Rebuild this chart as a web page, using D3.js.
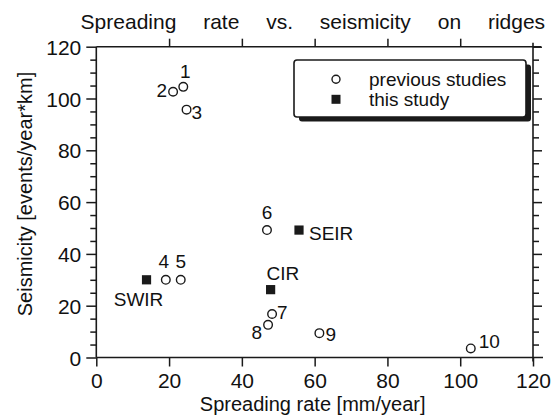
<!DOCTYPE html>
<html>
<head>
<meta charset="utf-8">
<script src="https://cdn.jsdelivr.net/npm/d3@7"></script>
<style>
  html, body { margin: 0; padding: 0; background: #fff; }
  svg { display: block; }
  text { font-family: "Liberation Sans", Arial, Helvetica, sans-serif; fill: #111; }
</style>
</head>
<body>
<svg id="chart" width="559" height="417"></svg>
<script>
// ---- data ----
const prevLabels = ["1", "2", "3", "4", "5", "6", "7", "8", "9", "10"];
const prevX = [23.9, 21.1, 24.8, 19.1, 23.2, 46.9, 48.3, 47.2, 61.3, 102.9];
const prevY = [104.5, 102.6, 95.7, 30, 30, 49.2, 16.8, 12.6, 9.4, 3.5];

const thisNames = ["SWIR", "SEIR", "CIR"];
const thisX = [13.8, 55.7, 47.9];
const thisY = [30, 49.2, 26.2];

const xTicks = [0, 20, 40, 60, 80, 100, 120];
const yTicks = [0, 20, 40, 60, 80, 100, 120];
const yMinorTicks = d3.range(0, 121, 5).filter(v => v % 20 !== 0);

const titleText = "Spreading rate vs. seismicity on ridges";
const xTitle = "Spreading rate [mm/year]";
const yTitle = "Seismicity [events/year*km]";
const legendLabels = ["previous studies", "this study"];

// ---- label placement (style) ----
const prevLabelPos = [
  {dx: 2, dy: -9, a: "middle"},
  {dx: -6, dy: 5, a: "end"},
  {dx: 5, dy: 9, a: "start"},
  {dx: -2, dy: -12, a: "middle"},
  {dx: 0, dy: -12, a: "middle"},
  {dx: 0, dy: -11, a: "middle"},
  {dx: 5, dy: 5, a: "start"},
  {dx: -6, dy: 14, a: "end"},
  {dx: 6, dy: 8, a: "start"},
  {dx: 8, dy: 0, a: "start"}
];
const thisLabelPos = [
  {dx: -8, dy: 26, a: "middle"},
  {dx: 10, dy: 10, a: "start"},
  {dx: -4, dy: -10, a: "start"}
];

// ---- layout ----
const L = 96.3, R = 533, T = 46.7, B = 357.5;
const ink = "#1a1a1a";
const svg = d3.select("#chart");

const x = d3.scaleLinear().domain([0, 120]).range([L, R]);
const y = d3.scaleLinear().domain([0, 120]).range([B, T]);

// frame lines (extended slightly like the original)
const frame = svg.append("g").attr("stroke", ink).attr("stroke-width", 1.6).attr("fill", "none");
frame.append("line").attr("x1", L).attr("x2", R + 10).attr("y1", B).attr("y2", B);
frame.append("line").attr("x1", L).attr("x2", R + 8).attr("y1", T).attr("y2", T);
frame.append("line").attr("x1", L).attr("x2", L).attr("y1", T).attr("y2", B);
frame.append("line").attr("x1", R).attr("x2", R).attr("y1", T - 4).attr("y2", B + 4);

// axes via d3
const fontTick = "21px";
const bottomAxis = d3.axisBottom(x).tickValues(xTicks).tickSize(9).tickPadding(7).tickFormat(d3.format("d"));
const gB = svg.append("g").attr("transform", `translate(0,${B})`).call(bottomAxis);
const topAxis = d3.axisTop(x).tickValues(xTicks.slice(1, -1)).tickSize(8).tickFormat("");
const gT = svg.append("g").attr("transform", `translate(0,${T})`).call(topAxis);
const leftAxis = d3.axisLeft(y).tickValues(yTicks).tickSize(10).tickPadding(5).tickFormat(d3.format("d"));
const gL = svg.append("g").attr("transform", `translate(${L},0)`).call(leftAxis);
const leftMinor = d3.axisLeft(y).tickValues(yMinorTicks).tickSize(6).tickFormat("");
const gLm = svg.append("g").attr("transform", `translate(${L},0)`).call(leftMinor);
const rightAxis = d3.axisRight(y).tickValues(yTicks.slice(1)).tickSize(9).tickFormat("");
const gR = svg.append("g").attr("transform", `translate(${R},0)`).call(rightAxis);
const rightMinor = d3.axisRight(y).tickValues(yMinorTicks).tickSize(6).tickFormat("");
const gRm = svg.append("g").attr("transform", `translate(${R},0)`).call(rightMinor);

[gB, gT, gL, gLm, gR, gRm].forEach(g => {
  g.select(".domain").remove();
  g.selectAll(".tick line").attr("stroke", ink).attr("stroke-width", 1.5);
  g.selectAll(".tick text").style("font-size", fontTick)
    .style("font-family", '"Liberation Sans", Arial, Helvetica, sans-serif').attr("fill", "#111");
});
gL.selectAll(".tick text").attr("dy", "0.36em");

// titles
svg.append("text").attr("x", 80.6).attr("y", 28.5)
  .style("font-size", "21px").style("word-spacing", "21px")
  .text(titleText);
svg.append("text").attr("x", (L + R) / 2 - 2).attr("y", 410.5)
  .attr("text-anchor", "middle").style("font-size", "20px").text(xTitle);
svg.append("text").attr("transform", `translate(32,194) rotate(-90)`)
  .attr("text-anchor", "middle").style("font-size", "20px").text(yTitle);

// legend
const lg = svg.append("g");
const lgX = 294, lgY = 60, lgW = 232, lgH = 57;
lg.append("rect").attr("x", lgX + 5).attr("y", lgY + 4.5).attr("width", lgW).attr("height", lgH)
  .attr("rx", 3).attr("fill", ink);
lg.append("rect").attr("x", lgX).attr("y", lgY).attr("width", lgW).attr("height", lgH)
  .attr("rx", 3).attr("fill", "#fff").attr("stroke", ink).attr("stroke-width", 1.6);
lg.append("circle").attr("cx", 336).attr("cy", 79.3).attr("r", 4)
  .attr("fill", "#fff").attr("stroke", ink).attr("stroke-width", 1.4);
lg.append("rect").attr("x", 331.5).attr("y", 94.8).attr("width", 9).attr("height", 9).attr("fill", ink);
lg.append("text").attr("x", 369).attr("y", 85.5).style("font-size", "19px").text(legendLabels[0]);
lg.append("text").attr("x", 369).attr("y", 106).style("font-size", "19px").text(legendLabels[1]);

// previous studies (open circles)
const prev = prevLabels.map((l, i) => ({l, x: prevX[i], y: prevY[i], p: prevLabelPos[i]}));
svg.append("g").selectAll("circle").data(prev).join("circle")
  .attr("cx", d => x(d.x)).attr("cy", d => y(d.y)).attr("r", 4.3)
  .attr("fill", "#fff").attr("stroke", ink).attr("stroke-width", 1.4);
svg.append("g").selectAll("text").data(prev).join("text")
  .attr("x", d => x(d.x) + d.p.dx).attr("y", d => y(d.y) + d.p.dy)
  .attr("text-anchor", d => d.p.a).style("font-size", "19px").text(d => d.l);

// this study (filled squares)
const cur = thisNames.map((n, i) => ({n, x: thisX[i], y: thisY[i], p: thisLabelPos[i]}));
svg.append("g").selectAll("rect").data(cur).join("rect")
  .attr("x", d => x(d.x) - 4.6).attr("y", d => y(d.y) - 4.6)
  .attr("width", 9.2).attr("height", 9.2).attr("fill", ink);
svg.append("g").selectAll("text").data(cur).join("text")
  .attr("x", d => x(d.x) + d.p.dx).attr("y", d => y(d.y) + d.p.dy)
  .attr("text-anchor", d => d.p.a).style("font-size", "19px").text(d => d.n);
</script>
</body>
</html>
